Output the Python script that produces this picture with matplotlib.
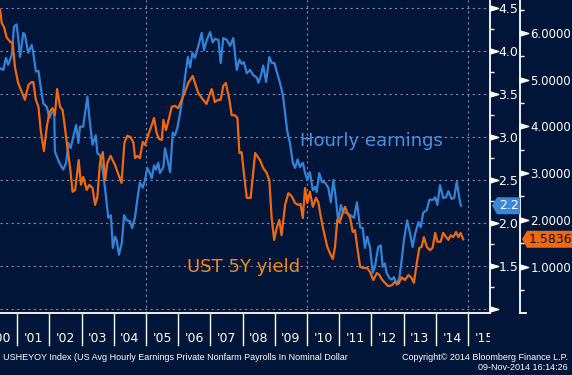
import matplotlib
matplotlib.use("Agg")
import matplotlib.pyplot as plt
import matplotlib.transforms as mtrans
from matplotlib.patches import Polygon
from matplotlib.ticker import MultipleLocator, FuncFormatter
import numpy as np

# Hourly earnings YoY (%), left-hand scale
he_year = [2000.47, 2000.57, 2000.65, 2000.72, 2000.83, 2000.90, 2000.98, 2001.03, 2001.09, 2001.19,
           2001.24, 2001.34, 2001.45, 2001.50, 2001.58, 2001.66, 2001.73, 2001.81, 2001.92, 2002.00,
           2002.07, 2002.15, 2002.17, 2002.31, 2002.43, 2002.52, 2002.59, 2002.66, 2002.74, 2002.83,
           2002.90, 2002.95, 2003.05, 2003.18, 2003.26, 2003.34, 2003.44, 2003.49, 2003.57, 2003.67,
           2003.76, 2003.83, 2003.91, 2003.97, 2004.04, 2004.09, 2004.16, 2004.25, 2004.32, 2004.40,
           2004.50, 2004.57, 2004.66, 2004.73, 2004.81, 2004.90, 2004.97, 2005.04, 2005.12, 2005.18,
           2005.25, 2005.31, 2005.38, 2005.43, 2005.54, 2005.59, 2005.67, 2005.75, 2005.83, 2005.90,
           2005.97, 2006.06, 2006.14, 2006.21, 2006.30, 2006.37, 2006.44, 2006.52, 2006.62, 2006.73,
           2006.80, 2006.89, 2006.99, 2007.07, 2007.14, 2007.25, 2007.32, 2007.40, 2007.51, 2007.61,
           2007.71, 2007.82, 2007.90, 2007.97, 2008.04, 2008.13, 2008.23, 2008.33, 2008.44, 2008.49,
           2008.56, 2008.64, 2008.73, 2008.83, 2008.91, 2008.99, 2009.06, 2009.16, 2009.25, 2009.32,
           2009.39, 2009.47, 2009.56, 2009.63, 2009.71, 2009.78, 2009.87, 2009.94, 2010.01, 2010.09,
           2010.18, 2010.25, 2010.30, 2010.38, 2010.46, 2010.56, 2010.66, 2010.74, 2010.82, 2010.90,
           2010.97, 2011.05, 2011.13, 2011.23, 2011.34, 2011.46, 2011.55, 2011.65, 2011.73, 2011.80,
           2011.87, 2011.96, 2012.04, 2012.11, 2012.21, 2012.29, 2012.35, 2012.42, 2012.47, 2012.56,
           2012.63, 2012.70, 2012.79, 2012.87, 2012.94, 2013.01, 2013.11, 2013.20, 2013.28, 2013.35,
           2013.46, 2013.53, 2013.61, 2013.72, 2013.80, 2013.92, 2013.98, 2014.05, 2014.13, 2014.23,
           2014.32, 2014.39, 2014.49, 2014.57, 2014.65, 2014.73, 2014.78]
he_val = [3.80, 3.78, 3.92, 3.84, 3.95, 4.28, 4.31, 4.16, 3.93, 4.21,
          4.19, 3.98, 4.07, 3.98, 3.76, 3.77, 3.58, 3.39, 3.35, 3.22,
          3.28, 3.31, 2.83, 2.70, 2.62, 2.70, 2.93, 2.87, 3.00, 3.14,
          2.93, 3.12, 3.12, 3.47, 3.16, 2.91, 3.02, 2.81, 2.79, 2.58,
          2.30, 2.06, 2.09, 1.71, 1.84, 1.80, 1.63, 1.77, 2.09, 2.03,
          2.02, 1.94, 2.07, 2.27, 2.47, 2.41, 2.50, 2.64, 2.58, 2.52,
          2.67, 2.62, 2.70, 2.58, 2.65, 2.87, 2.73, 2.59, 3.05, 3.02,
          3.10, 3.28, 3.47, 3.69, 3.93, 3.81, 3.98, 3.92, 4.05, 4.21,
          4.01, 4.13, 4.22, 4.10, 4.14, 4.13, 3.86, 4.15, 4.13, 4.06,
          4.15, 3.78, 3.90, 3.85, 3.87, 3.74, 3.78, 3.72, 3.69, 3.63,
          3.70, 3.83, 3.64, 3.93, 3.86, 3.86, 3.76, 3.63, 3.49, 3.28,
          3.06, 2.93, 2.70, 2.64, 2.74, 2.65, 2.70, 2.58, 2.50, 2.59,
          2.38, 2.42, 2.36, 2.58, 2.48, 2.47, 2.41, 2.24, 2.50, 2.27,
          2.01, 2.21, 2.12, 2.12, 2.09, 2.06, 2.24, 1.95, 1.94, 1.71,
          1.84, 1.71, 1.42, 1.49, 1.72, 1.74, 1.49, 1.53, 1.42, 1.36,
          1.34, 1.37, 1.28, 1.37, 1.57, 1.80, 2.03, 1.88, 1.72, 1.86,
          2.01, 1.95, 2.12, 2.15, 2.27, 2.27, 2.30, 2.21, 2.44, 2.29,
          2.30, 2.37, 2.28, 2.29, 2.48, 2.29, 2.20]

# UST 5Y yield (%), right-hand scale
ust_year = [2000.47, 2000.52, 2000.59, 2000.67, 2000.78, 2000.86, 2000.93, 2001.03, 2001.14, 2001.24,
            2001.35, 2001.45, 2001.50, 2001.58, 2001.66, 2001.73, 2001.83, 2001.92, 2002.00, 2002.10,
            2002.17, 2002.24, 2002.33, 2002.41, 2002.48, 2002.56, 2002.64, 2002.72, 2002.80, 2002.91,
            2002.98, 2003.05, 2003.16, 2003.24, 2003.34, 2003.42, 2003.49, 2003.57, 2003.66, 2003.73,
            2003.80, 2003.90, 2004.04, 2004.17, 2004.24, 2004.33, 2004.42, 2004.52, 2004.61, 2004.66,
            2004.73, 2004.81, 2004.90, 2004.97, 2005.07, 2005.18, 2005.25, 2005.33, 2005.41, 2005.49,
            2005.54, 2005.62, 2005.69, 2005.80, 2005.90, 2006.00, 2006.11, 2006.21, 2006.31, 2006.45,
            2006.52, 2006.62, 2006.73, 2006.88, 2006.97, 2007.04, 2007.14, 2007.24, 2007.32, 2007.40,
            2007.48, 2007.59, 2007.66, 2007.76, 2007.84, 2007.90, 2007.97, 2008.04, 2008.13, 2008.25,
            2008.39, 2008.54, 2008.64, 2008.75, 2008.83, 2008.90, 2008.98, 2009.06, 2009.14, 2009.21,
            2009.32, 2009.42, 2009.52, 2009.63, 2009.73, 2009.80, 2009.87, 2009.94, 2010.01, 2010.09,
            2010.18, 2010.28, 2010.35, 2010.43, 2010.51, 2010.63, 2010.71, 2010.80, 2010.87, 2010.94,
            2011.02, 2011.11, 2011.18, 2011.25, 2011.34, 2011.42, 2011.49, 2011.56, 2011.65, 2011.75,
            2011.87, 2011.96, 2012.06, 2012.17, 2012.25, 2012.32, 2012.42, 2012.52, 2012.63, 2012.73,
            2012.84, 2012.94, 2013.04, 2013.15, 2013.25, 2013.32, 2013.41, 2013.49, 2013.56, 2013.63,
            2013.72, 2013.82, 2013.90, 2013.98, 2014.05, 2014.15, 2014.23, 2014.32, 2014.39, 2014.46,
            2014.54, 2014.63, 2014.70, 2014.77, 2014.85]
ust_val = [6.49, 6.21, 6.13, 5.91, 5.81, 5.79, 5.27, 4.93, 4.74, 4.57,
           4.89, 4.95, 4.95, 4.57, 4.42, 3.92, 3.47, 3.99, 4.31, 4.39,
           4.24, 4.80, 4.42, 4.35, 3.99, 3.54, 3.13, 2.60, 2.64, 3.28,
           2.75, 2.92, 2.64, 2.75, 2.68, 2.32, 2.49, 3.22, 3.45, 2.85,
           3.22, 3.37, 3.17, 2.92, 2.79, 3.65, 3.80, 3.77, 3.65, 3.32,
           3.37, 3.32, 3.67, 3.60, 3.82, 4.03, 4.18, 3.86, 3.73, 3.71,
           4.14, 3.92, 4.10, 4.42, 4.44, 4.39, 4.57, 4.74, 4.93, 5.08,
           4.93, 4.72, 4.61, 4.48, 4.67, 4.80, 4.52, 4.57, 4.57, 4.87,
           4.93, 4.57, 4.24, 4.24, 4.18, 3.43, 3.45, 3.00, 2.47, 2.47,
           3.43, 3.28, 3.11, 3.00, 2.85, 2.06, 1.57, 1.83, 2.00, 1.67,
           2.32, 2.57, 2.51, 2.36, 2.32, 2.34, 2.04, 2.68, 2.36, 2.60,
           2.28, 2.47, 2.38, 2.06, 1.78, 1.42, 1.29, 1.16, 1.42, 2.00,
           1.95, 2.15, 2.28, 2.15, 2.04, 1.74, 1.78, 1.42, 0.99, 0.97,
           0.97, 0.88, 0.71, 0.86, 0.82, 0.73, 0.65, 0.58, 0.60, 0.67,
           0.63, 0.77, 0.71, 0.82, 0.75, 0.65, 1.08, 1.40, 1.42, 1.63,
           1.42, 1.35, 1.40, 1.72, 1.53, 1.53, 1.72, 1.63, 1.57, 1.67,
           1.63, 1.74, 1.63, 1.72, 1.5836]

he_ticks = [1.0, 1.5, 2.0, 2.5, 3.0, 3.5, 4.0, 4.5]
ust_ticks = [1, 2, 3, 4, 5, 6]
years = list(range(2001, 2016))
grid_years = [2005, 2010, 2015]

BG = '#001538'
BLUE = '#3283d8'
ORANGE = '#f0690f'
GRID = '#7d8cab'
W, H = 572, 375

fig = plt.figure(figsize=(W / 100, H / 100), dpi=100, facecolor=BG)
ax = fig.add_axes([0, 1 - 313 / H, 490 / W, 313 / H])
ax.set_facecolor(BG)
ax.set_xlim(2000.466, 2015.683)
ax.set_ylim(0.953, 4.593)

ax2 = ax.twinx()
ax2.set_ylim(0.005, 6.707)

# grid
ax.set_xticks(grid_years)
ax.set_yticks(he_ticks)
ax.grid(True, color=GRID, lw=0.8, linestyle=(0, (2, 3)))
ax.tick_params(axis='x', length=0, labelbottom=False)

for s in ['left', 'top']:
    ax.spines[s].set_visible(False)
for s in ['bottom', 'right']:
    ax.spines[s].set_color('white')
    ax.spines[s].set_linewidth(1.3)
for s in ['left', 'top', 'bottom']:
    ax2.spines[s].set_visible(False)
ax2.spines['right'].set_position(('axes', 520 / 490))
ax2.spines['right'].set_color('white')
ax2.spines['right'].set_linewidth(1.3)

ax.yaxis.tick_right()
ax.yaxis.set_major_formatter(FuncFormatter(lambda v, p: '' if v < 1.2 else '%.1f' % v))
ax.yaxis.set_minor_locator(MultipleLocator(0.25))
ax.tick_params(axis='y', which='major', length=0, pad=6, labelsize=9, labelcolor='white')
ax.tick_params(axis='y', which='minor', length=3, width=1, color='white')

ax2.set_yticks(ust_ticks)
ax2.yaxis.set_major_formatter(FuncFormatter(lambda v, p: '%.4f' % v))
ax2.yaxis.set_minor_locator(MultipleLocator(0.5))
ax2.tick_params(axis='y', which='major', length=0, pad=7.5, labelsize=8.5, labelcolor='white')
ax2.tick_params(axis='y', which='minor', length=3, width=1, color='white')

# white triangle tick markers
tri = [(-1, -0.6), (1, 0), (-1, 0.6), (-1, -0.6)]
t1 = mtrans.offset_copy(mtrans.blended_transform_factory(ax.transAxes, ax.transData), fig=fig, x=4, y=0, units='dots')
ax.plot([1.0] * len(he_ticks), he_ticks, ls='none', marker=tri, ms=6, color='white', transform=t1, clip_on=False, zorder=5)
t2 = mtrans.offset_copy(mtrans.blended_transform_factory(ax2.transAxes, ax2.transData), fig=fig, x=4, y=0, units='dots')
ax2.plot([520 / 490] * len(ust_ticks), ust_ticks, ls='none', marker=tri, ms=6, color='white', transform=t2, clip_on=False, zorder=5)
ax2.plot([520 / 490, 526 / 490], [0, 0], color='white', lw=1.3, transform=ax2.transAxes, clip_on=False)

# the series
ax.plot(he_year, he_val, color=BLUE, lw=1.6, zorder=3)
ax2.plot(ust_year, ust_val, color=ORANGE, lw=1.6, zorder=3)

ax.text(2009.78, 2.895, 'Hourly earnings', color='#4a8fe0', fontsize=13, va='baseline', ha='left')
ax.text(2006.27, 1.43, 'UST 5Y yield', color='#f08a1a', fontsize=13, va='baseline', ha='left')

# year separators and labels under the axis (cut off at the plot's right edge)
xa = mtrans.blended_transform_factory(ax.transData, ax.transAxes)
clip = plt.Rectangle((0, 0), 490, H, transform=mtrans.IdentityTransform())
for yr in years:
    ax.plot([yr, yr], [0, -0.102], color='white', lw=1, transform=xa, clip_on=False)
for yr in [2000] + years:
    t = ax.text(yr + 0.5, -0.083, "'%02d" % (yr % 100), color='white', fontsize=9,
                ha='center', va='center', transform=xa)
    t.set_clip_path(clip)
    t.set_clip_on(True)


# last value tags
def tag(axis, value, x0, x1, fc, tc, label):
    py = axis.transData.transform((0, value))[1]
    hh = 8.5
    pts = [(x0, py), (x0 + 5, py + hh), (x1, py + hh), (x1, py - hh), (x0 + 5, py - hh)]
    fig.add_artist(Polygon(pts, closed=True, facecolor=fc, edgecolor='none',
                           transform=mtrans.IdentityTransform(), zorder=10))
    fig.text(x0 + 7, py, label, color=tc, fontsize=9, ha='left', va='center',
             transform=mtrans.IdentityTransform(), zorder=11)


tag(ax, he_val[-1], 492, 520, '#3a86d8', 'white', '%.1f' % he_val[-1])
tag(ax2, ust_val[-1], 522, 572, ORANGE, '#111111', '%.4f' % ust_val[-1])

# footer
fig.text(3 / W, 1 - 357 / H, 'USHEYOY Index (US Avg Hourly Earnings Private Nonfarm Payrolls In Nominal Dollar',
         color='white', fontsize=6.5, family='Liberation Sans', va='center', ha='left')
fig.text(568 / W, 1 - 357 / H, 'Copyright\u00a9 2014 Bloomberg Finance L.P.',
         color='white', fontsize=6.5, family='Liberation Sans', va='center', ha='right')
fig.text(568 / W, 1 - 368 / H, '09-Nov-2014 16:14:26',
         color='white', fontsize=6.5, family='Liberation Sans', va='center', ha='right')

fig.savefig('out.png', dpi=100, facecolor=BG)
